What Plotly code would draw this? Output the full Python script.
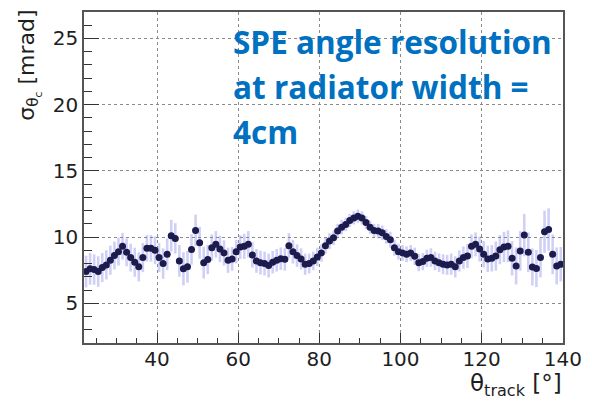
import plotly.graph_objects as go

# Bin centres of the track angle (degrees)
theta_track = [22.5 + i for i in range(118)]

# Single-photoelectron Cherenkov angle resolution per bin (mrad)
sigma_theta_c = [
    7.4, 7.6, 7.55, 7.4, 7.7, 7.9, 8.25, 8.6, 8.9, 9.3,
    8.85, 8.45, 8.1, 7.75, 8.45, 9.15, 9.15, 9.0, 8.45, 8.0,
    8.7, 10.1, 9.9, 8.2, 7.6, 7.75, 9.07, 10.5, 9.57, 8.07,
    8.3, 9.2, 9.45, 9.1, 8.8, 8.25, 8.35, 8.9, 9.25, 9.3,
    9.45, 8.65, 8.2, 8.07, 8.0, 7.85, 8.1, 8.25, 8.37, 8.32,
    9.35, 8.9, 8.6, 8.35, 7.95, 8.0, 8.2, 8.5, 8.8, 9.35,
    9.7, 9.95, 10.45, 10.75, 10.95, 11.25, 11.45, 11.58, 11.45, 11.1,
    10.75, 10.5, 10.45, 10.32, 10.05, 9.8, 9.2, 8.9, 8.8, 8.7,
    8.8, 8.55, 8.07, 8.15, 8.4, 8.45, 8.2, 8.07, 7.95, 7.9,
    7.95, 7.75, 8.2, 8.45, 8.57, 9.3, 9.45, 9.1, 8.7, 8.35,
    8.4, 8.57, 9.05, 9.25, 9.3, 8.4, 7.82, 8.95, 10.15, 8.85,
    7.74, 7.62, 8.45, 10.4, 10.57, 8.7, 7.82, 7.95,
]

# Uncertainty on each resolution value (mrad)
sigma_err = [
    1.2, 1.2, 1.15, 1.15, 1.1, 1.1, 1.1, 1.05, 1.05, 1.0, 1.05, 1.05, 1.1, 1.1,
    1.1, 1.0, 1.0, 1.05, 1.1, 1.15, 1.2, 1.2, 1.15, 1.2, 1.25, 1.2, 1.15, 1.2, 1.2, 1.2,
    1.1, 1.0, 1.0, 1.0, 0.95, 0.95, 0.9, 0.9, 0.9, 0.95, 1.0, 0.95, 0.9,
    0.9, 0.9, 0.9, 0.85, 0.85, 0.85, 0.85, 0.95, 0.9, 0.85, 0.8, 0.8, 0.75, 0.7, 0.7,
    0.65, 0.6, 0.6, 0.55, 0.55, 0.55, 0.5, 0.5, 0.5, 0.5, 0.5, 0.5, 0.5, 0.5, 0.55, 0.55, 0.55, 0.6, 0.6, 0.6,
    0.6, 0.6, 0.6, 0.65, 0.65, 0.65, 0.65, 0.7, 0.7, 0.7, 0.75, 0.75, 0.8, 0.8, 0.8, 0.85, 0.9, 0.9, 0.9, 0.95,
    1.0, 1.0, 1.0, 1.1, 1.1, 1.15, 1.2, 1.3, 1.4, 1.5, 1.6, 1.5, 1.4, 1.4, 1.5, 1.6, 1.6, 1.5, 1.4, 1.3,
]

x_ticks = [40, 60, 80, 100, 120, 140]
y_ticks = [5, 10, 15, 20, 25]
note_lines = ["SPE angle resolution", "at radiator width =", "4cm"]

W, H = 592, 406
L, R, T, B = 84, 24, 10, 63
pw, ph = W - L - R, H - T - B


def px_x(px):
    return (px - L) / pw


def px_y(py):
    return (H - B - py) / ph


fig = go.Figure()
fig.add_trace(go.Scatter(
    x=theta_track, y=sigma_theta_c, mode="markers",
    marker=dict(symbol="circle", size=7, color="#1b1b4d"),
    error_y=dict(type="data", array=sigma_err, visible=True,
                 color="rgba(120,120,230,0.35)", thickness=2.6, width=0),
    showlegend=False,
))

tick_font = dict(family="DejaVu Sans", size=20, color="#1e1e1e")
fig.update_xaxes(
    range=[22, 140.05], tickvals=x_ticks, ticks="inside", ticklen=10,
    tickwidth=1.3, tickcolor="#333", showline=True, linecolor="#555",
    linewidth=1.5, mirror=True, showgrid=True, gridcolor="#8a8a8a",
    griddash="dot", gridwidth=1, zeroline=False, tickfont=tick_font,
    ticklabelstandoff=-3,
    minor=dict(dtick=5, ticks="inside", ticklen=5, tickcolor="#333",
               tickwidth=1.2, showgrid=False),
)
fig.update_yaxes(
    range=[2, 27], tickvals=y_ticks, ticks="inside", ticklen=15,
    tickwidth=1.3, tickcolor="#333", showline=True, linecolor="#555",
    linewidth=1.5, mirror=True, showgrid=True, gridcolor="#8a8a8a",
    griddash="dot", gridwidth=1, zeroline=False, tickfont=tick_font,
    ticklabelstandoff=0,
    minor=dict(dtick=1, ticks="inside", ticklen=8, tickcolor="#333",
               tickwidth=1.2, showgrid=False),
)

title_font = dict(family="DejaVu Sans", size=22, color="#1e1e1e")
annotations = [
    dict(text="σ<sub>θ<sub>c</sub></sub> [mrad]", textangle=-90,
         xref="paper", yref="paper", x=px_x(11), y=px_y(6),
         xanchor="left", yanchor="top", showarrow=False, font=title_font),
    dict(text="θ<sub>track</sub> [°]",
         xref="paper", yref="paper", x=px_x(569), y=px_y(368),
         xanchor="right", yanchor="top", showarrow=False,
         font=dict(family="DejaVu Sans", size=23, color="#1e1e1e")),
]
note_font = dict(family="Open Sans", size=31.5, color="#0070c0", weight="bold")
for i, line in enumerate(note_lines):
    annotations.append(dict(
        text=line, xref="paper", yref="paper", x=px_x(233),
        y=px_y(40 + 45 * i), xanchor="left", yanchor="middle",
        showarrow=False, font=note_font,
    ))

fig.update_layout(
    width=W, height=H, margin=dict(l=L, r=R, t=T, b=B),
    paper_bgcolor="white", plot_bgcolor="white",
    annotations=annotations,
)

fig.write_html("out.html")
